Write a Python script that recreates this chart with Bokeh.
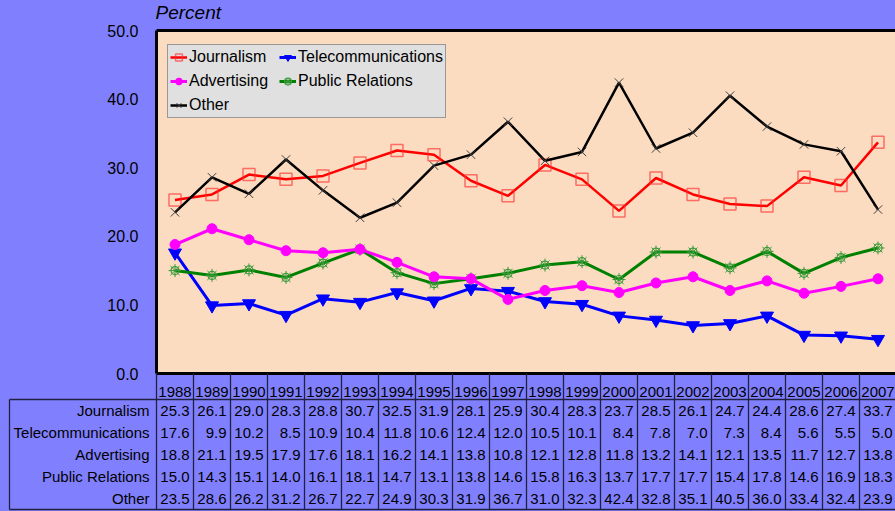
from bokeh.plotting import figure
from bokeh.models import (ColumnDataSource, Range1d, FixedTicker, PrintfTickFormatter,
                          Legend, LegendItem)
from bokeh.core.properties import value
from bokeh.embed import file_html
from bokeh.resources import INLINE

# ---------------- data ----------------
years = ["1988", "1989", "1990", "1991", "1992", "1993", "1994", "1995", "1996", "1997",
         "1998", "1999", "2000", "2001", "2002", "2003", "2004", "2005", "2006", "2007"]
series_names = ["Journalism", "Telecommunications", "Advertising", "Public Relations", "Other"]
journalism = [25.3, 26.1, 29.0, 28.3, 28.8, 30.7, 32.5, 31.9, 28.1, 25.9,
              30.4, 28.3, 23.7, 28.5, 26.1, 24.7, 24.4, 28.6, 27.4, 33.7]
telecommunications = [17.6, 9.9, 10.2, 8.5, 10.9, 10.4, 11.8, 10.6, 12.4, 12.0,
                      10.5, 10.1, 8.4, 7.8, 7.0, 7.3, 8.4, 5.6, 5.5, 5.0]
advertising = [18.8, 21.1, 19.5, 17.9, 17.6, 18.1, 16.2, 14.1, 13.8, 10.8,
               12.1, 12.8, 11.8, 13.2, 14.1, 12.1, 13.5, 11.7, 12.7, 13.8]
public_relations = [15.0, 14.3, 15.1, 14.0, 16.1, 18.1, 14.7, 13.1, 13.8, 14.6,
                    15.8, 16.3, 13.7, 17.7, 17.7, 15.4, 17.8, 14.6, 16.9, 18.3]
other = [23.5, 28.6, 26.2, 31.2, 26.7, 22.7, 24.9, 30.3, 31.9, 36.7,
         31.0, 32.3, 42.4, 32.8, 35.1, 40.5, 36.0, 33.4, 32.4, 23.9]
y_ticks = [0, 10, 20, 30, 40, 50]
y_title = "Percent"

all_series = [journalism, telecommunications, advertising, public_relations, other]

# ---------------- styles / layout ----------------
BLUE = "#8080FF"
PEACH = "#FBDCC0"
FONT = "Liberation Sans"
W, H = 895, 511
LEFT = 156
TOP = 30
RIGHT = 0
n = len(years)
ppu_x = 37.0
ppu_y = 6.86
frame_w = W - LEFT - RIGHT
frame_h = H - TOP
HEADER = 26 / ppu_y
ROW = 22 / ppu_y
table_bottom = -(HEADER + ROW * len(series_names))
x_left_edge = -0.5 - (LEFT - 9) / ppu_x
x_end = -0.5 + frame_w / ppu_x
y_start = y_ticks[-1] - frame_h / ppu_y

p = figure(width=W, height=H, output_backend="svg", toolbar_location=None,
           x_range=Range1d(-0.5, x_end), y_range=Range1d(y_start, y_ticks[-1]),
           x_axis_location=None, min_border_left=LEFT, min_border_right=RIGHT,
           min_border_top=TOP, min_border_bottom=0,
           background_fill_color=BLUE, border_fill_color=BLUE, outline_line_color=None)
p.grid.visible = False

ax = p.yaxis[0]
ax.ticker = FixedTicker(ticks=y_ticks)
ax.formatter = PrintfTickFormatter(format="%.1f")
ax.axis_line_color = None
ax.major_tick_line_color = None
ax.minor_tick_line_color = None
ax.major_tick_in = 0
ax.major_tick_out = 0
ax.major_label_standoff = 18
ax.major_label_text_font = FONT
ax.major_label_text_font_size = "16px"
ax.major_label_text_color = "black"

# plot area background
p.quad(left=[-0.5], right=[x_end + 2], bottom=[y_ticks[0]], top=[y_ticks[-1]],
       fill_color=PEACH, line_color=None, level="underlay")

xs = list(range(n))

# series
r_j_line = p.line(xs, journalism, line_color="#FF0000", line_width=2.5)
r_j_mk = p.scatter(xs, journalism, marker="square", size=12, fill_color=None,
                   line_color="#FF3030", line_alpha=0.65, line_width=1.5)

r_t_line = p.line(xs, telecommunications, line_color="#0000FF", line_width=3)
r_t_mk = p.scatter(xs, telecommunications, marker="inverted_triangle", size=13,
                   fill_color="#0000FF", line_color="#0000FF")

r_pr_line = p.line(xs, public_relations, line_color="#008000", line_width=3)
r_pr_mk1 = p.scatter(xs, public_relations, marker="asterisk", size=13,
                     line_color="#3A9A3A", line_width=1)
r_pr_mk2 = p.scatter(xs, public_relations, marker="circle", size=8, fill_color=None,
                     line_color="#3A9A3A", line_width=1.2)

r_a_line = p.line(xs, advertising, line_color="#FF00FF", line_width=3)
r_a_mk = p.scatter(xs, advertising, marker="circle", size=10,
                   fill_color="#FF00FF", line_color="#FF00FF")

r_o_line = p.line(xs, other, line_color="#000000", line_width=2.5)
r_o_mk = p.scatter(xs, other, marker="x", size=12, line_color="#404040", line_width=1)

# frame border (left, top, bottom)
p.segment(x0=[-0.5, -0.5, -0.5], y0=[y_ticks[0], y_ticks[-1], y_ticks[0]],
          x1=[-0.5, x_end, x_end], y1=[y_ticks[-1], y_ticks[-1], y_ticks[0]],
          line_color="black", line_width=3, level="overlay")

# axis title "Percent" above the plot area
p.text(x=[-0.5], y=[y_ticks[-1]], text=[y_title], text_font=value(FONT),
       text_font_size="19px", text_font_style="italic", text_align="left",
       text_baseline="alphabetic", x_offset=-1, y_offset=-18, text_color="black",
       level="overlay")

# table grid
GRID = "#202040"
vx = [i - 0.5 for i in range(n)]
p.segment(x0=vx, y0=[y_ticks[0]] * n, x1=vx, y1=[table_bottom] * n,
          line_color=GRID, line_width=1.3, level="overlay")
p.segment(x0=[x_left_edge, x_left_edge, x_left_edge],
          y0=[-HEADER, table_bottom, -HEADER],
          x1=[x_end, x_end, x_left_edge],
          y1=[-HEADER, table_bottom, table_bottom],
          line_color=GRID, line_width=1.3, level="overlay")

# table text
hdr_src = ColumnDataSource(dict(x=xs, y=[-18 / ppu_y] * n, text=years))
p.text(x="x", y="y", text="text", source=hdr_src, text_font=value(FONT),
       text_font_size="15px", text_align="center", text_baseline="middle",
       text_color="black", level="overlay")

row_y = [-(HEADER + ROW * (k + 0.52)) for k in range(len(series_names))]
lab_src = ColumnDataSource(dict(x=[-0.5] * len(series_names), y=row_y, text=series_names))
p.text(x="x", y="y", text="text", source=lab_src, text_font=value(FONT),
       text_font_size="15px", text_align="right", text_baseline="middle",
       x_offset=-7, text_color="black", level="overlay")

cx, cy, ct = [], [], []
for k, vals in enumerate(all_series):
    for i, v in enumerate(vals):
        cx.append(i + 0.5)
        cy.append(row_y[k])
        ct.append(f"{v:.1f}")
val_src = ColumnDataSource(dict(x=cx, y=cy, text=ct))
p.text(x="x", y="y", text="text", source=val_src, text_font=value(FONT),
       text_font_size="15px", text_align="right", text_baseline="middle",
       x_offset=-4, text_color="black", level="overlay")

# legend (column-major fill: col1 = Journalism, Advertising, Other)
legend = Legend(items=[
    LegendItem(label=series_names[0], renderers=[r_j_line, r_j_mk]),
    LegendItem(label=series_names[2], renderers=[r_a_line, r_a_mk]),
    LegendItem(label=series_names[4], renderers=[r_o_line, r_o_mk]),
    LegendItem(label=series_names[1], renderers=[r_t_line, r_t_mk]),
    LegendItem(label=series_names[3], renderers=[r_pr_line, r_pr_mk1, r_pr_mk2]),
], location=(11, frame_h - 16 - 72), ncols=2)
legend.padding = 2
legend.spacing = 4
legend.label_standoff = 2
legend.label_width = 86
legend.glyph_width = 17
legend.glyph_height = 20
legend.label_height = 20
legend.label_text_font = FONT
legend.label_text_font_size = "16px"
legend.label_text_color = "black"
legend.background_fill_color = "#E0E0E0"
legend.background_fill_alpha = 1.0
legend.border_line_color = "#505050"
legend.border_line_width = 1.5
p.add_layout(legend)

html = file_html(p, INLINE, title="chart")
html = html.replace("</head>", "<style>body{background-color:#8080FF;}</style></head>", 1)
open("out.html", "w").write(html)
